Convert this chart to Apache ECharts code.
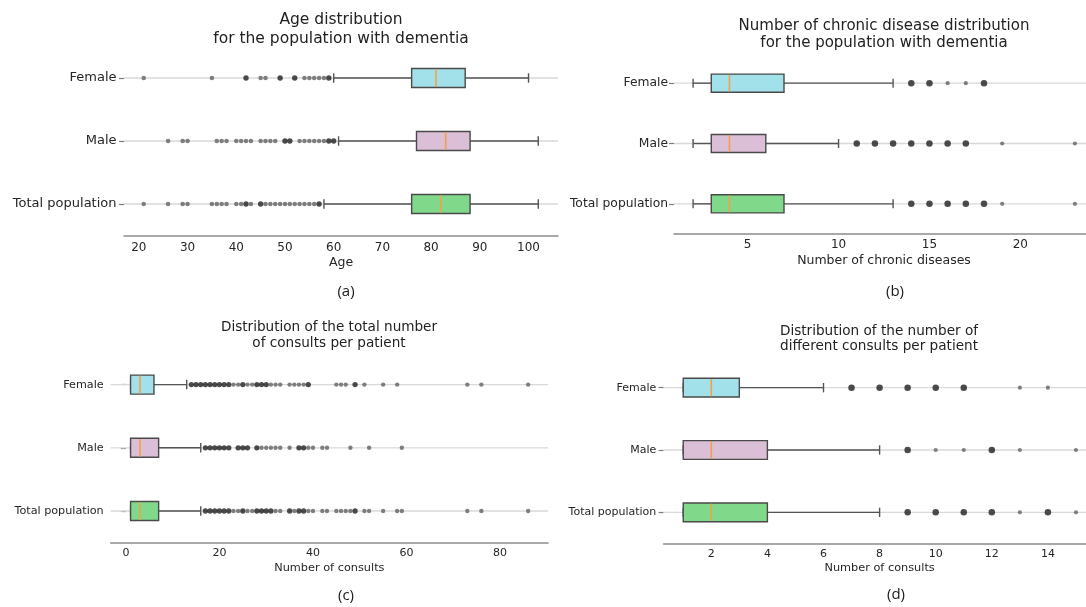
<!DOCTYPE html>
<html>
<head>
<meta charset="utf-8">
<script src="https://cdn.jsdelivr.net/npm/echarts@6/dist/echarts.min.js"></script>
<style>
  html, body { margin: 0; padding: 0; background: #ffffff; }
  #chart { width: 1086px; height: 607px; }
</style>
</head>
<body>
<div id="chart"></div>
<script>
// ---------------- DATA ----------------
const categories = ['Total population', 'Male', 'Female'];

// [lower whisker, Q1, median, Q3, upper whisker] in categories order
const ageBox = [[58, 76, 82, 88, 102], [61, 77, 83, 88, 102], [60, 76, 81, 87, 100]];
const ageOutTotal = [21, 26, 29, 30, 35, 36, 37, 38, 40, 41, 42, 42, 43, 45, 45, 46, 47, 48, 49, 50, 51, 52, 53, 54, 55, 56, 57, 57];
const ageOutMale = [26, 29, 30, 36, 37, 38, 40, 41, 42, 43, 45, 46, 47, 48, 50, 50, 51, 51, 53, 54, 55, 56, 57, 58, 59, 59, 60, 60];
const ageOutFemale = [21, 35, 42, 42, 45, 46, 49, 49, 52, 52, 54, 55, 56, 57, 58, 59, 59];

const chronicBox = [[2, 3, 4, 7, 13], [2, 3, 4, 6, 10], [2, 3, 4, 7, 13]];
const chronicOutTotal = [14, 14, 15, 15, 16, 16, 17, 17, 18, 18, 19, 23];
const chronicOutMale = [11, 11, 12, 12, 13, 13, 14, 14, 15, 15, 16, 16, 17, 17, 19, 23];
const chronicOutFemale = [14, 14, 15, 15, 16, 17, 18, 18];

const consultBox = [[1, 1, 3, 7, 16], [1, 1, 3, 7, 16], [1, 1, 3, 6, 13]];
const consultOutTotal = [17, 17, 18, 18, 19, 19, 20, 20, 21, 21, 22, 22, 23, 24, 25, 25, 26, 27, 28, 28, 29, 29, 30, 30, 31, 31, 32, 33, 35, 35, 36, 37, 37, 38, 38, 39, 40, 42, 43, 45, 46, 47, 48, 49, 49, 51, 52, 55, 58, 59, 73, 76, 86];
const consultOutMale = [17, 17, 18, 18, 19, 19, 20, 20, 21, 21, 22, 22, 24, 24, 25, 25, 26, 26, 28, 28, 29, 30, 31, 32, 33, 35, 37, 37, 38, 38, 39, 40, 42, 43, 48, 52, 59];
const consultOutFemale = [14, 14, 15, 15, 16, 16, 17, 17, 18, 18, 19, 19, 20, 20, 21, 21, 22, 22, 23, 24, 25, 25, 26, 27, 28, 28, 29, 29, 30, 30, 31, 32, 33, 35, 36, 37, 38, 39, 39, 45, 46, 47, 49, 49, 51, 55, 58, 73, 76, 86];

const diffBox = [[1, 1, 2, 4, 8], [1, 1, 2, 4, 8], [1, 1, 2, 3, 6]];
const diffOutTotal = [9, 9, 10, 10, 11, 11, 12, 12, 13, 14, 14, 15];
const diffOutMale = [9, 9, 10, 11, 12, 12, 13, 15];
const diffOutFemale = [7, 7, 8, 8, 9, 9, 10, 10, 11, 11, 13, 14];

const titles = [
  'Age distribution\nfor the population with dementia',
  'Number of chronic disease distribution\nfor the population with dementia',
  'Distribution of the total number\nof consults per patient',
  'Distribution of the number of\ndifferent consults per patient'
];
const axisNames = ['Age', 'Number of chronic diseases', 'Number of consults', 'Number of consults'];
const panelLabels = ['(a)', '(b)', '(c)', '(d)'];
// axis extents and tick steps
const axisMin = [16.95, 0.95, -3.25, 0.3];
const axisMax = [106.05, 24.05, 90.25, 15.7];
const tickStep = [10, 5, 20, 2];

// ---------------- STYLE / LAYOUT ----------------
const FONT = 'DejaVu Sans';
const TXT = '#262626';
const boxColors = ['#80d98a', '#dbbfd6', '#a2e0ea'];
const medianColor = '#f2a04e';
const edgeColor = '#4a4a4a';

const panels = [
  { box: ageBox, out: [ageOutTotal, ageOutMale, ageOutFemale],
    grid: { left: 124, top: 46.5, width: 434, height: 189 },
    catFont: 13, tickFont: 12, nameFont: 12.5, labelMargin: 7.5, tickMargin: 6, nameGap: 21,
    title: { x: 341, top: 10.5, size: 15.5, lh: 19 }, lab: { x: 346, y: 292 },
    dot: [4.6, 5.4] },
  { box: chronicBox, out: [chronicOutTotal, chronicOutMale, chronicOutFemale],
    grid: { left: 674, top: 53, width: 420, height: 181 },
    catFont: 12.3, tickFont: 12, nameFont: 12.5, labelMargin: 6, tickMargin: 5, nameGap: 20.5,
    title: { x: 884, top: 17.2, size: 15, lh: 17 }, lab: { x: 895, y: 292 },
    dot: [4.2, 6.5] },
  { box: consultBox, out: [consultOutTotal, consultOutMale, consultOutFemale],
    grid: { left: 110.7, top: 353, width: 437.3, height: 189.6 },
    catFont: 11.2, tickFont: 11, nameFont: 11.3, labelMargin: 7, tickMargin: 5, nameGap: 19.7,
    title: { x: 329, top: 319.5, size: 13.6, lh: 15.7 }, lab: { x: 346, y: 596 },
    dot: [4.4, 5.3] },
  { box: diffBox, out: [diffOutTotal, diffOutMale, diffOutFemale],
    grid: { left: 663.6, top: 356.5, width: 432, height: 187 },
    catFont: 11, tickFont: 11, nameFont: 11.3, labelMargin: 7.3, tickMargin: 5, nameGap: 19,
    title: { x: 879, top: 323.5, size: 13.6, lh: 15 }, lab: { x: 896, y: 595 },
    dot: [4.2, 6.5] }
];

function isMultiple(v, step) {
  const r = v / step;
  return Math.abs(r - Math.round(r)) < 1e-6;
}

function boxRender(params, api) {
  const ci = api.value(0);
  const lo = api.value(1), q1 = api.value(2), md = api.value(3), q3 = api.value(4), hi = api.value(5);
  const pLo = api.coord([lo, ci]);
  const y = pLo[1];
  const xLo = pLo[0];
  const xQ1 = api.coord([q1, ci])[0];
  const xMd = api.coord([md, ci])[0];
  const xQ3 = api.coord([q3, ci])[0];
  const xHi = api.coord([hi, ci])[0];
  const band = api.size([0, 1])[1];
  const h = band * 0.3;
  const ln = (x1, y1, x2, y2, stroke, w) => ({
    type: 'line', shape: { x1, y1, x2, y2 }, style: { stroke, lineWidth: w }
  });
  return {
    type: 'group',
    children: [
      ln(xLo, y, xQ1, y, '#555', 1.4),
      ln(xQ3, y, xHi, y, '#555', 1.4),
      ln(xLo, y - h / 4, xLo, y + h / 4, '#555', 1.4),
      ln(xHi, y - h / 4, xHi, y + h / 4, '#555', 1.4),
      { type: 'rect', shape: { x: xQ1, y: y - h / 2, width: xQ3 - xQ1, height: h },
        style: { fill: boxColors[ci], stroke: edgeColor, lineWidth: 1.4 } },
      ln(xMd, y - h / 2 + 0.7, xMd, y + h / 2 - 0.7, medianColor, 1.6)
    ]
  };
}

function gridLineRender(params, api) {
  const ci = api.value(1);
  const y = api.coord([api.value(0), ci])[1];
  const cs = params.coordSys;
  return {
    type: 'line',
    shape: { x1: cs.x, y1: y, x2: cs.x + cs.width, y2: y },
    style: { stroke: '#d9d9d9', lineWidth: 1.3 }
  };
}

const option = {
  backgroundColor: '#ffffff',
  animation: false,
  title: [], grid: [], xAxis: [], yAxis: [], series: [], graphic: []
};

panels.forEach((p, i) => {
  option.grid.push(Object.assign({ containLabel: false, outerBoundsMode: 'none' }, p.grid));
  option.title.push({
    text: titles[i], left: p.title.x, top: p.title.top, textAlign: 'center', padding: 0,
    textStyle: { fontFamily: FONT, fontSize: p.title.size, fontWeight: 'normal', color: '#222', lineHeight: p.title.lh }
  });
  const step = tickStep[i];
  option.xAxis.push({
    type: 'value', gridIndex: i, min: axisMin[i], max: axisMax[i],
    minInterval: step, maxInterval: step,
    axisLine: { show: true, lineStyle: { color: '#8c8c8c', width: 1.5 } },
    axisTick: { show: false },
    splitLine: { show: false },
    axisLabel: {
      margin: p.tickMargin, fontSize: p.tickFont, fontFamily: FONT, color: TXT,
      showMinLabel: false, showMaxLabel: false,
      formatter: v => (isMultiple(v, step) ? String(Math.round(v)) : '')
    },
    name: axisNames[i], nameLocation: 'middle', nameGap: p.nameGap,
    nameTextStyle: { fontFamily: FONT, fontSize: p.nameFont, color: TXT }
  });
  option.yAxis.push({
    type: 'category', gridIndex: i, data: categories,
    axisLine: { show: false },
    axisTick: { show: true, alignWithLabel: true, length: 5, lineStyle: { color: '#7a7a7a', width: 1.2 } },
    splitLine: { show: false },
    axisLabel: { margin: p.labelMargin, fontSize: p.catFont, fontFamily: FONT, color: TXT }
  });
  // horizontal gridlines at each category
  option.series.push({
    type: 'custom', xAxisIndex: i, yAxisIndex: i, z: 1, silent: true,
    data: categories.map((c, ci) => [axisMin[i], ci]),
    encode: { x: 0, y: 1 },
    renderItem: gridLineRender
  });
  // boxes
  option.series.push({
    type: 'custom', xAxisIndex: i, yAxisIndex: i, z: 3, silent: true,
    data: p.box.map((b, ci) => [ci].concat(b)),
    encode: { x: [1, 2, 3, 4, 5], y: 0 },
    renderItem: boxRender
  });
  // outliers: repeated values (overlapping patients) are drawn darker
  const pts = [];
  p.out.forEach((arr, ci) => {
    const counts = {};
    arr.forEach(v => { counts[v] = (counts[v] || 0) + 1; });
    Object.keys(counts).forEach(k => {
      const n = counts[k];
      pts.push({
        value: [Number(k), ci],
        symbolSize: n > 1 ? p.dot[1] : p.dot[0],
        itemStyle: { color: n > 1 ? '#1f1f1f' : '#636363' }
      });
    });
  });
  option.series.push({
    type: 'scatter', xAxisIndex: i, yAxisIndex: i, z: 4, silent: true,
    symbol: 'circle', data: pts
  });
  option.graphic.push({
    type: 'text', x: p.lab.x, y: p.lab.y,
    style: { text: panelLabels[i], align: 'center', verticalAlign: 'middle',
             font: '15px "Open Sans", "Liberation Sans", sans-serif', fill: '#1a1a1a' }
  });
});

const chart = echarts.init(document.getElementById('chart'), null, { renderer: 'canvas' });
chart.setOption(option);
</script>
</body>
</html>
